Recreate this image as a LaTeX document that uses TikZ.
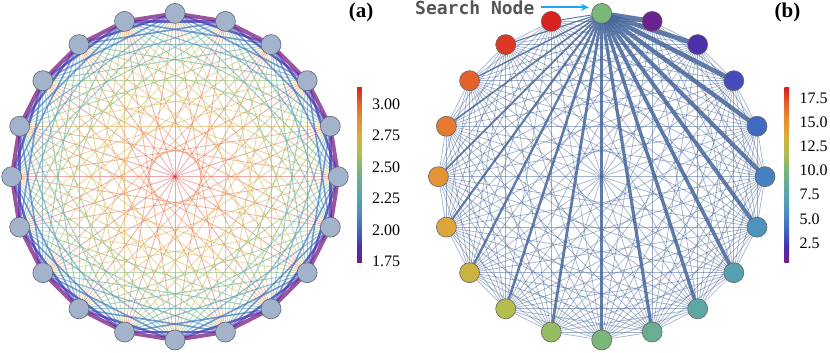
\documentclass[tikz,border=0pt]{standalone}
\usepackage{fontspec}
\setmainfont{Liberation Serif}
\newfontfamily\serifface{Liberation Serif}
\newfontfamily\monofont{DejaVu Sans Mono}
\usetikzlibrary{arrows.meta,backgrounds}
\definecolor{tol0}{HTML}{781C81}
\definecolor{tol1}{HTML}{4A2FB0}
\definecolor{tol2}{HTML}{4065C1}
\definecolor{tol3}{HTML}{488BC2}
\definecolor{tol4}{HTML}{55A1B1}
\definecolor{tol5}{HTML}{63AD99}
\definecolor{tol6}{HTML}{7FB972}
\definecolor{tol7}{HTML}{B5BD4C}
\definecolor{tol8}{HTML}{D9AD3C}
\definecolor{tol9}{HTML}{E68E34}
\definecolor{tol10}{HTML}{E6642C}
\definecolor{tol11}{HTML}{D92120}
\definecolor{lnodefill}{HTML}{A3B3CB}
\definecolor{lnodeline}{HTML}{5E6678}
\definecolor{edgeblue}{HTML}{46659A}
\definecolor{arrowblue}{HTML}{1EA6F0}
\definecolor{labelgray}{HTML}{555555}
\newcommand{\cmapcolor}[2]{%
  \pgfmathsetmacro{\cms}{max(0,min(1,#2))*11}%
  \pgfmathtruncatemacro{\cmj}{min(floor(\cms),10)}%
  \pgfmathtruncatemacro{\cmk}{\cmj+1}%
  \pgfmathsetmacro{\cmf}{(\cms-\cmj)*100}%
  \colorlet{#1}{tol\cmk!\cmf!tol\cmj}%
}
\pgfdeclareverticalshading{tolbar}{20bp}{color(0bp)=(tol0); color(25bp)=(tol0);
 color(29.545bp)=(tol1); color(34.091bp)=(tol2); color(38.636bp)=(tol3);
 color(43.182bp)=(tol4); color(47.727bp)=(tol5); color(52.273bp)=(tol6);
 color(56.818bp)=(tol7); color(61.364bp)=(tol8); color(65.909bp)=(tol9);
 color(70.455bp)=(tol10); color(75bp)=(tol11); color(100bp)=(tol11)}
\begin{document}
\begin{tikzpicture}[x=1pt,y=1pt,
  lnode/.style={circle,minimum size=20pt,inner sep=0pt,draw=lnodeline,line width=0.6pt,fill=lnodefill},
  rnode/.style={circle,minimum size=20pt,inner sep=0pt,draw=black!60,line width=0.6pt},
  thinedge/.style={draw=edgeblue,line width=0.7pt,opacity=0.5},
  thickedge/.style={draw=edgeblue,opacity=0.85},
  panellabel/.style={font=\serifface\bfseries\fontsize{21}{21}\selectfont,inner sep=0pt},
  barlabel/.style={font=\serifface\fontsize{16}{16}\selectfont,inner sep=0pt,anchor=west},
  sarrow/.style={draw=arrowblue,line width=1.6pt,-{Stealth[length=8pt,width=7pt]}}
]
\useasboundingbox (0,0) rectangle (830,353);
% ---------- panel (a)
\foreach \i in {0,...,19}
  \node[lnode] (L\i) at ({175+163.3*cos(90-18*\i)},{176.3+163.3*sin(90-18*\i)}) {};
\begin{pgfonlayer}{background}
\foreach \k in {10,9,...,1}{
  \pgfmathsetmacro{\ew}{{4,2.4,1.6,1.2,1.0,0.9,0.85,0.8,0.8,0.8}[\k-1]}
  \pgfmathsetmacro{\eo}{{0.75,0.75,0.7,0.6,0.55,0.55,0.5,0.5,0.5,0.4}[\k-1]}
  \cmapcolor{ekcol}{(\k-1)/9}
  \foreach \i in {0,...,19}{
    \pgfmathtruncatemacro{\j}{mod(\i+\k,20)}
    \ifnum\k<10
      \draw[line width=\ew pt,draw=ekcol,opacity=\eo] (L\i.center) -- (L\j.center);
    \else\ifnum\i<10
      \draw[line width=\ew pt,draw=ekcol,opacity=\eo] (L\i.center) -- (L\j.center);
    \fi\fi
  }
}
\end{pgfonlayer}
\shade[shading=tolbar] (353.3,90) rectangle (365.7,265);
\node[barlabel] (a300) at (372,249) {3.00};
\node[barlabel] (a275) at (372,217.5) {2.75};
\node[barlabel] (a250) at (372,186) {2.50};
\node[barlabel] (a225) at (372,154.5) {2.25};
\node[barlabel] (a200) at (372,123) {2.00};
\node[barlabel] (a175) at (372,91.5) {1.75};
\node[panellabel] (la) at (361,341) {(a)};
% ---------- panel (b)
\cmapcolor{ncol}{(10-0.46)/18.1}
\node[rnode,fill=ncol] (R0) at (601.7,339.6) {};
\foreach \i in {1,...,19}{
  \cmapcolor{ncol}{(\i-0.46)/18.1}
  \node[rnode,fill=ncol] (R\i) at ({601.7+163.3*cos(90-18*\i)},{176.3+163.3*sin(90-18*\i)}) {};
}
\begin{pgfonlayer}{background}
\foreach \i in {1,...,19}{
  \foreach \j in {\i,...,19}{
    \ifnum\j>\i \draw[thinedge] (R\i.center) -- (R\j.center); \fi
  }
}
\foreach \i in {1,...,19}{
  \pgfmathsetmacro{\tw}{5-(\i-1)*4/18}
  \draw[thickedge,line width=\tw pt] (R0.center) -- (R\i.center);
}
\end{pgfonlayer}
\shade[shading=tolbar] (780.7,90) rectangle (792.7,265);
\node[barlabel] (b175) at (799.3,254.7) {17.5};
\node[barlabel] (b150) at (799.3,230.3) {15.0};
\node[barlabel] (b125) at (799.3,206.3) {12.5};
\node[barlabel] (b100) at (799.3,182.3) {10.0};
\node[barlabel] (b75) at (799.3,158.7) {7.5};
\node[barlabel] (b50) at (799.3,134) {5.0};
\node[barlabel] (b25) at (799.3,109.7) {2.5};
\node[panellabel] (lb) at (787.5,341) {(b)};
\node[font=\monofont\bfseries\fontsize{18}{18}\selectfont,text=labelgray,anchor=base west,inner sep=0pt] (sn) at (415,338) {Search Node};
\coordinate (atip) at (589,345.7);
\draw[sarrow] ([xshift=6pt,yshift=7.7pt]sn.base east) -- (atip);
\end{tikzpicture}
\end{document}
